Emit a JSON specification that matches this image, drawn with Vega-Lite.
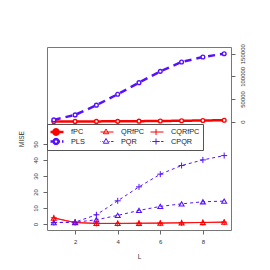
{
  "$schema": "https://vega.github.io/schema/vega-lite/v6.json",
  "width": 184,
  "height": 183,
  "autosize": {"type": "none"},
  "padding": {"left": 47, "top": 47, "right": 39, "bottom": 40},
  "background": "white",
  "config": {
    "font": "Liberation Sans",
    "view": {"stroke": "#777", "strokeWidth": 1},
    "axis": {"domain": false, "grid": false, "tickColor": "#666", "tickSize": 4, "labelFontSize": 6, "labelColor": "#333", "titleFontSize": 6.5, "titleFontWeight": "normal", "titleColor": "#333"}
  },
  "data": {
    "values": [
      {"L": 1, "series": "fPC", "panel": "top", "value": 200},
      {"L": 2, "series": "fPC", "panel": "top", "value": 300},
      {"L": 3, "series": "fPC", "panel": "top", "value": 400},
      {"L": 4, "series": "fPC", "panel": "top", "value": 600},
      {"L": 5, "series": "fPC", "panel": "top", "value": 900},
      {"L": 6, "series": "fPC", "panel": "top", "value": 1300},
      {"L": 7, "series": "fPC", "panel": "top", "value": 1800},
      {"L": 8, "series": "fPC", "panel": "top", "value": 2400},
      {"L": 9, "series": "fPC", "panel": "top", "value": 3000},
      {"L": 1, "series": "PLS", "panel": "top", "value": 3700},
      {"L": 2, "series": "PLS", "panel": "top", "value": 14800},
      {"L": 3, "series": "PLS", "panel": "top", "value": 36200},
      {"L": 4, "series": "PLS", "panel": "top", "value": 60400},
      {"L": 5, "series": "PLS", "panel": "top", "value": 86000},
      {"L": 6, "series": "PLS", "panel": "top", "value": 111000},
      {"L": 7, "series": "PLS", "panel": "top", "value": 131700},
      {"L": 8, "series": "PLS", "panel": "top", "value": 142700},
      {"L": 9, "series": "PLS", "panel": "top", "value": 150000},
      {"L": 1, "series": "QRfPC", "panel": "bottom", "value": 3.7},
      {"L": 2, "series": "QRfPC", "panel": "bottom", "value": 1.0},
      {"L": 3, "series": "QRfPC", "panel": "bottom", "value": 0.4},
      {"L": 4, "series": "QRfPC", "panel": "bottom", "value": 0.4},
      {"L": 5, "series": "QRfPC", "panel": "bottom", "value": 0.5},
      {"L": 6, "series": "QRfPC", "panel": "bottom", "value": 0.6},
      {"L": 7, "series": "QRfPC", "panel": "bottom", "value": 0.8},
      {"L": 8, "series": "QRfPC", "panel": "bottom", "value": 1.0},
      {"L": 9, "series": "QRfPC", "panel": "bottom", "value": 1.2},
      {"L": 1, "series": "CQRfPC", "panel": "bottom", "value": 3.9},
      {"L": 2, "series": "CQRfPC", "panel": "bottom", "value": 0.9},
      {"L": 3, "series": "CQRfPC", "panel": "bottom", "value": 0.4},
      {"L": 4, "series": "CQRfPC", "panel": "bottom", "value": 0.4},
      {"L": 5, "series": "CQRfPC", "panel": "bottom", "value": 0.5},
      {"L": 6, "series": "CQRfPC", "panel": "bottom", "value": 0.6},
      {"L": 7, "series": "CQRfPC", "panel": "bottom", "value": 0.8},
      {"L": 8, "series": "CQRfPC", "panel": "bottom", "value": 1.0},
      {"L": 9, "series": "CQRfPC", "panel": "bottom", "value": 1.2},
      {"L": 1, "series": "PQR", "panel": "bottom", "value": 0.9},
      {"L": 2, "series": "PQR", "panel": "bottom", "value": 1.1},
      {"L": 3, "series": "PQR", "panel": "bottom", "value": 2.7},
      {"L": 4, "series": "PQR", "panel": "bottom", "value": 5.4},
      {"L": 5, "series": "PQR", "panel": "bottom", "value": 8.5},
      {"L": 6, "series": "PQR", "panel": "bottom", "value": 11.0},
      {"L": 7, "series": "PQR", "panel": "bottom", "value": 12.6},
      {"L": 8, "series": "PQR", "panel": "bottom", "value": 13.9},
      {"L": 9, "series": "PQR", "panel": "bottom", "value": 14.3},
      {"L": 1, "series": "CPQR", "panel": "bottom", "value": 1.0},
      {"L": 2, "series": "CPQR", "panel": "bottom", "value": 1.2},
      {"L": 3, "series": "CPQR", "panel": "bottom", "value": 5.8},
      {"L": 4, "series": "CPQR", "panel": "bottom", "value": 14.5},
      {"L": 5, "series": "CPQR", "panel": "bottom", "value": 23.2},
      {"L": 6, "series": "CPQR", "panel": "bottom", "value": 31.1},
      {"L": 7, "series": "CPQR", "panel": "bottom", "value": 36.5},
      {"L": 8, "series": "CPQR", "panel": "bottom", "value": 40.0},
      {"L": 9, "series": "CPQR", "panel": "bottom", "value": 42.7}
    ]
  },
  "layer": [
    {
      "transform": [{"filter": {"field": "panel", "equal": "top"}}],
      "encoding": {
        "x": {"field": "L", "type": "quantitative", "scale": {"domain": [0.68, 9.32], "nice": false, "zero": false}, "axis": {"values": [2, 4, 6, 8], "title": "L", "labelPadding": 4, "titlePadding": 9}},
        "y": {"field": "value", "type": "quantitative", "scale": {"domain": [-239600, 164800], "nice": false, "zero": false}, "axis": {"orient": "right", "values": [0, 50000, 100000, 150000], "format": "d", "labelAngle": -90, "labelPadding": 4, "title": null}},
        "stroke": {"field": "series", "type": "nominal", "scale": {"domain": ["fPC", "PLS", "QRfPC", "CQRfPC", "PQR", "CPQR"], "range": ["#ff0000", "#5511ff", "#ff0000", "#ff0000", "#5511ff", "#5511ff"]}, "legend": null}
      },
      "layer": [
        {
          "mark": {"type": "line", "strokeWidth": 2.5},
          "encoding": {
            "strokeDash": {"field": "series", "type": "nominal", "scale": {"domain": ["PLS", "fPC", "QRfPC", "CQRfPC", "PQR", "CPQR"], "range": [[7, 5], [1, 0], [1, 0], [1, 0], [3, 3], [3, 3]]}, "legend": null}
          }
        },
        {
          "mark": {"type": "point", "shape": "circle", "filled": false, "fill": "white", "size": 14, "strokeWidth": 1.4, "opacity": 1},
          "encoding": {}
        }
      ]
    },
    {
      "transform": [{"filter": {"field": "panel", "equal": "bottom"}}],
      "encoding": {
        "x": {"field": "L", "type": "quantitative", "scale": {"domain": [0.68, 9.32], "nice": false, "zero": false}, "axis": {"values": [2, 4, 6, 8], "title": "L", "labelPadding": 4, "titlePadding": 9}},
        "y": {"field": "value", "type": "quantitative", "scale": {"domain": [-3.7, 110.4], "nice": false, "zero": false}, "axis": {"orient": "left", "values": [0, 10, 20, 30, 40, 50], "labelAngle": -90, "labelPadding": 5, "title": "MISE", "titlePadding": 8}},
        "stroke": {"field": "series", "type": "nominal", "scale": {"domain": ["fPC", "PLS", "QRfPC", "CQRfPC", "PQR", "CPQR"], "range": ["#ff0000", "#5511ff", "#ff0000", "#ff0000", "#5511ff", "#5511ff"]}, "legend": null}
      },
      "layer": [
        {
          "mark": {"type": "line", "strokeWidth": 1},
          "encoding": {
            "strokeDash": {"field": "series", "type": "nominal", "scale": {"domain": ["PLS", "fPC", "QRfPC", "CQRfPC", "PQR", "CPQR"], "range": [[7, 5], [1, 0], [1, 0], [1, 0], [3, 3], [3, 3]]}, "legend": null}
          }
        },
        {
          "transform": [{"filter": {"field": "series", "oneOf": ["QRfPC", "PQR"]}}],
          "mark": {"type": "point", "shape": "triangle-up", "filled": false, "size": 24, "strokeWidth": 1.1, "opacity": 1},
          "encoding": {}
        },
        {
          "transform": [{"filter": {"field": "series", "oneOf": ["CQRfPC", "CPQR"]}}],
          "mark": {"type": "point", "shape": "M-1,0H1M0,-1V1", "filled": false, "size": 36, "strokeWidth": 1, "opacity": 1},
          "encoding": {}
        }
      ]
    },
    {
      "transform": [{"filter": {"field": "series", "equal": "__none__"}}],
      "mark": {"type": "point", "filled": false, "opacity": 1},
      "encoding": {
        "color": {"field": "series", "type": "nominal", "scale": {"domain": ["fPC", "PLS", "QRfPC", "PQR", "CQRfPC", "CPQR"], "range": ["#ff0000", "#5511ff", "#ff0000", "#5511ff", "#ff0000", "#5511ff"]},
          "legend": {"orient": "none", "legendX": 0, "legendY": 77, "columns": 3, "title": null, "strokeColor": "#555", "padding": 3.5, "symbolSize": 49, "labelFontSize": 7.3, "labelColor": "#222", "labelOffset": 10.5, "columnPadding": 1, "rowPadding": 0.5, "clipHeight": 9, "gridAlign": "all", "symbolOpacity": 1}},
        "fill": {"field": "series", "type": "nominal", "scale": {"domain": ["fPC", "PLS", "QRfPC", "PQR", "CQRfPC", "CPQR"], "range": ["#ff0000", "transparent", "transparent", "transparent", "transparent", "transparent"]},
          "legend": {"orient": "none", "legendX": 0, "legendY": 77, "columns": 3, "title": null, "strokeColor": "#555", "padding": 3.5, "symbolSize": 49, "labelFontSize": 7.3, "labelColor": "#222", "labelOffset": 10.5, "columnPadding": 1, "rowPadding": 0.5, "clipHeight": 9, "gridAlign": "all", "symbolOpacity": 1}},
        "shape": {"field": "series", "type": "nominal", "scale": {"domain": ["fPC", "PLS", "QRfPC", "PQR", "CQRfPC", "CPQR"], "range": [
          "M-1.91,0H2.29M0.9,0L0.8,0.375L0.525,0.65L0.15,0.75L-0.225,0.65L-0.5,0.375L-0.6,0L-0.5,-0.375L-0.225,-0.65L0.15,-0.75L0.525,-0.65L0.8,-0.375Z",
          "M-1.91,0H-0.55M0.85,0H1.3M1.85,0H2.29M0.85,0L0.756,0.35L0.5,0.606L0.15,0.7L-0.2,0.606L-0.456,0.35L-0.55,0L-0.456,-0.35L-0.2,-0.606L0.15,-0.7L0.5,-0.606L0.756,-0.35Z",
          "M-1.91,0H2.29M0.15,-0.86L0.92,0.5L-0.62,0.5Z",
          "M-1.91,0H-1.3M-0.9,0H-0.6M0.9,0H1.2M1.6,0H2.29M0.15,-0.86L0.92,0.5L-0.62,0.5Z",
          "M-1.91,0H2.29M0.15,-0.86V0.86",
          "M-1.91,0H-1.3M-0.9,0H-0.4M0.7,0H1.2M1.6,0H2.29M-0.7,0H1.0M0.15,-0.86V0.86"
        ]},
          "legend": {"orient": "none", "legendX": 0, "legendY": 77, "columns": 3, "title": null, "strokeColor": "#555", "padding": 3.5, "symbolSize": 49, "labelFontSize": 7.3, "labelColor": "#222", "labelOffset": 10.5, "columnPadding": 1, "rowPadding": 0.5, "clipHeight": 9, "gridAlign": "all", "symbolOpacity": 1}},
        "strokeWidth": {"field": "series", "type": "nominal", "scale": {"type": "ordinal", "domain": ["fPC", "PLS", "QRfPC", "PQR", "CQRfPC", "CPQR"], "range": [2.5, 2.5, 1, 1, 1, 1]},
          "legend": {"orient": "none", "legendX": 0, "legendY": 77, "columns": 3, "title": null, "strokeColor": "#555", "padding": 3.5, "symbolSize": 49, "labelFontSize": 7.3, "labelColor": "#222", "labelOffset": 10.5, "columnPadding": 1, "rowPadding": 0.5, "clipHeight": 9, "gridAlign": "all", "symbolOpacity": 1}}
      }
    }
  ],
  "resolve": {"scale": {"y": "independent"}}
}
